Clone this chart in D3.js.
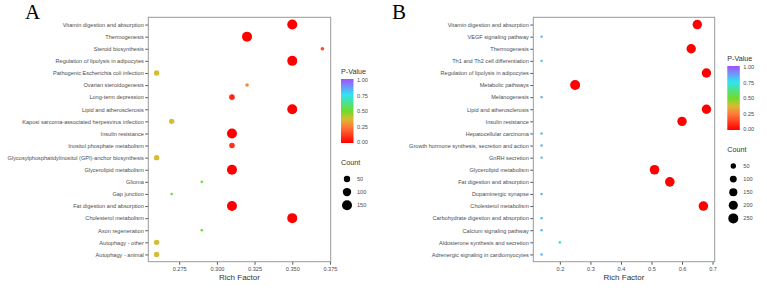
<!DOCTYPE html>
<html>
<head>
<meta charset="utf-8">
<script src="https://cdn.jsdelivr.net/npm/d3@7"></script>
<style>
  body { margin: 0; background: #fff; }
  text { font-family: "Liberation Sans", Arial, sans-serif; }
</style>
</head>
<body>
<div id="app"></div>
<script>
// ---- data, panel A ----
const catsA = ['Vitamin digestion and absorption', 'Thermogenesis', 'Steroid biosynthesis',
    'Regulation of lipolysis in adipocytes', 'Pathogenic Escherichia coli infection',
    'Ovarian steroidogenesis', 'Long-term depression', 'Lipid and atherosclerosis',
    'Kaposi sarcoma-associated herpesvirus infection', 'Insulin resistance',
    'Inositol phosphate metabolism', 'Glycosylphosphatidylinositol (GPI)-anchor biosynthesis',
    'Glycerolipid metabolism', 'Glioma', 'Gap junction', 'Fat digestion and absorption',
    'Cholesterol metabolism', 'Axon regeneration', 'Autophagy - other', 'Autophagy - animal'];
const richA = [0.35, 0.32, 0.37, 0.35, 0.26, 0.32, 0.31, 0.35, 0.27, 0.31,
    0.31, 0.26, 0.31, 0.29, 0.27, 0.31, 0.35, 0.29, 0.26, 0.26];
const countA = [150, 150, 10, 150, 32, 10, 35, 150, 32, 150,
    35, 32, 150, 3, 3, 150, 150, 3, 32, 32];
const pA = [0.0, 0.0, 0.15, 0.0, 0.375, 0.28, 0.08, 0.0, 0.375, 0.0,
    0.1, 0.375, 0.0, 0.52, 0.52, 0.0, 0.0, 0.52, 0.375, 0.375];
const ticksA = [0.275, 0.300, 0.325, 0.350, 0.375];
const countLegA = [50, 100, 150];

// ---- data, panel B ----
const catsB = ['Vitamin digestion and absorption', 'VEGF signaling pathway', 'Thermogenesis',
    'Th1 and Th2 cell differentiation', 'Regulation of lipolysis in adipocytes',
    'Metabolic pathways', 'Melanogenesis', 'Lipid and atherosclerosis', 'Insulin resistance',
    'Hepatocellular carcinoma', 'Growth hormone synthesis, secretion and action',
    'GnRH secretion', 'Glycerolipid metabolism', 'Fat digestion and absorption',
    'Dopaminergic synapse', 'Cholesterol metabolism', 'Carbohydrate digestion and absorption',
    'Calcium signaling pathway', 'Aldosterone synthesis and secretion',
    'Adrenergic signaling in cardiomyocytes'];
const richB = [0.65, 0.14, 0.63, 0.14, 0.68, 0.25, 0.14, 0.68, 0.60, 0.14,
    0.14, 0.14, 0.51, 0.56, 0.14, 0.67, 0.14, 0.14, 0.20, 0.14];
const countB = [215, 2, 215, 2, 215, 250, 2, 215, 215, 2,
    2, 2, 225, 225, 2, 225, 2, 2, 3, 2];
const pB = [0.0, 0.83, 0.0, 0.83, 0.0, 0.0, 0.83, 0.0, 0.0, 0.83,
    0.83, 0.83, 0.0, 0.0, 0.83, 0.0, 0.83, 0.83, 0.7, 0.83];
const ticksB = [0.2, 0.3, 0.4, 0.5, 0.6, 0.7];
const countLegB = [50, 100, 150, 200, 250];

const pTicks = [0, 0.25, 0.5, 0.75, 1];
const pStops = [0, 0.25, 0.375, 0.5, 0.75, 1];
const pColors = ['#ff0000', '#ff7a3a', '#d8bc30', '#6edc2a', '#2ee6f0', '#a64dff'];

const width = 767, height = 294;
const svg = d3.select('#app').append('svg').attr('width', width).attr('height', height);
const color = d3.scaleLinear().domain(pStops).range(pColors);

// gradient for the colour bars
const grad = svg.append('defs').append('linearGradient')
    .attr('id', 'pgrad').attr('x1', 0).attr('y1', 1).attr('x2', 0).attr('y2', 0);
grad.selectAll('stop').data(pStops).enter().append('stop')
    .attr('offset', d => d)
    .attr('stop-color', (d, i) => pColors[i]);

function drawPanel(cfg) {
    const { cats, rich, count, p, ticks, xDomain, left, right, top, bottom, countLeg, legX, letter, letterX } = cfg;
    const g = svg.append('g');

    const x = d3.scaleLinear().domain(xDomain).range([left, right]);
    const y = d3.scalePoint().domain(cats).range([top, bottom]).padding(0.6);
    const r = d3.scaleSqrt().domain([2, d3.max(countLeg.concat(count))]).range([1.2, 5]);

    // points
    const pts = cats.map((c, i) => ({ cat: c, rich: rich[i], count: count[i], p: p[i] }));
    g.selectAll('circle.pt').data(pts).enter().append('circle')
        .attr('class', 'pt')
        .attr('cx', d => x(d.rich))
        .attr('cy', d => y(d.cat))
        .attr('r', d => r(d.count))
        .attr('fill', d => color(d.p));

    // axes
    const yAxis = g.append('g').attr('transform', `translate(${left},0)`)
        .call(d3.axisLeft(y).tickSize(3).tickPadding(1.5));
    yAxis.select('.domain').remove();
    yAxis.selectAll('line').attr('stroke', '#555');
    yAxis.selectAll('text').attr('fill', '#4d4d4d').style('font-size', '5.6px');

    const xAxis = g.append('g').attr('transform', `translate(0,${bottom})`)
        .call(d3.axisBottom(x).tickValues(ticks).tickSize(3).tickPadding(2)
            .tickFormat(d3.format(cfg.fmt)));
    xAxis.select('.domain').remove();
    xAxis.selectAll('line').attr('stroke', '#555');
    xAxis.selectAll('text').attr('fill', '#4d4d4d').style('font-size', '5.6px');

    g.append('rect')
        .attr('x', left).attr('y', top)
        .attr('width', right - left).attr('height', bottom - top)
        .attr('fill', 'none').attr('stroke', '#9a9a9a').attr('stroke-width', 1);

    g.append('text')
        .attr('x', (left + right) / 2).attr('y', 279.5)
        .attr('text-anchor', 'middle')
        .attr('fill', '#333').style('font-size', '8px')
        .text('Rich Factor');

    g.append('text')
        .attr('x', letterX).attr('y', 19)
        .style('font-family', '"Liberation Serif", "DejaVu Serif", serif')
        .style('font-size', '21px')
        .text(letter);

    // P-value legend
    const barTop = cfg.barTop, barH = 64;
    g.append('text').attr('x', legX).attr('y', barTop - 5)
        .attr('fill', '#333').style('font-size', '7.2px').text('P-Value');
    g.append('rect').attr('x', legX).attr('y', barTop)
        .attr('width', 12.5).attr('height', barH).attr('fill', 'url(#pgrad)');
    const pScale = d3.scaleLinear().domain([0, 1]).range([barTop + barH - 1, barTop + 1]);
    g.selectAll('text.pl').data(pTicks).enter().append('text')
        .attr('class', 'pl')
        .attr('x', legX + 16).attr('y', d => pScale(d) + 2)
        .attr('fill', '#4d4d4d').style('font-size', '5.6px')
        .text(d3.format('.2f'));

    // Count legend
    const cTop = barTop + 86;
    g.append('text').attr('x', legX).attr('y', cTop)
        .attr('fill', '#333').style('font-size', '7.2px').text('Count');
    g.selectAll('circle.cl').data(countLeg).enter().append('circle')
        .attr('class', 'cl')
        .attr('cx', legX + 6).attr('cy', (d, i) => cTop + 14 + i * 13.1)
        .attr('r', d => r(d)).attr('fill', '#000');
    g.selectAll('text.cl').data(countLeg).enter().append('text')
        .attr('class', 'cl')
        .attr('x', legX + 16).attr('y', (d, i) => cTop + 16 + i * 13.1)
        .attr('fill', '#4d4d4d').style('font-size', '5.6px')
        .text(d => d);
}

drawPanel({
    cats: catsA, rich: richA, count: countA, p: pA, ticks: ticksA, fmt: '.3f',
    xDomain: [0.2545, 0.3755], left: 148.3, right: 330.7, top: 17.3, bottom: 261.7,
    countLeg: countLegA, legX: 341, barTop: 79, letter: 'A', letterX: 25
});

drawPanel({
    cats: catsB, rich: richB, count: countB, p: pB, ticks: ticksB, fmt: '.1f',
    xDomain: [0.113, 0.707], left: 533.3, right: 714.7, top: 17.3, bottom: 261.7,
    countLeg: countLegB, legX: 727.3, barTop: 66, letter: 'B', letterX: 392
});
</script>
</body>
</html>
